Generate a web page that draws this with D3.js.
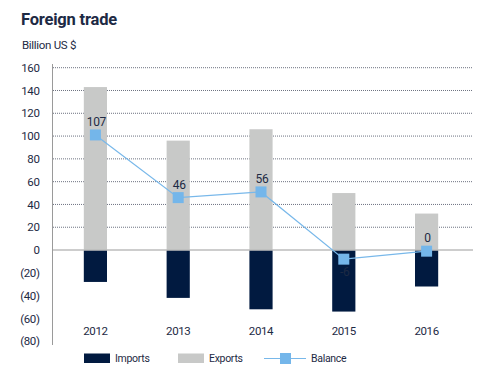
<!DOCTYPE html>
<html><head><meta charset="utf-8">
<script src="https://cdn.jsdelivr.net/npm/d3@7"></script>
<style>
body{margin:0;background:#fff;}
svg text{font-family:Roboto,"Open Sans",sans-serif;fill:#1d2a44;}
</style></head>
<body><svg id="c" width="491" height="381"></svg>
<script>
const years = ["2012","2013","2014","2015","2016"];
const exportsVals = [143, 96, 106, 50, 32];
const importsVals = [-28, -42, -52, -54, -32];
const balanceVals = [101, 46, 51, -8, -1];
const balanceLabels = ["107","46","56","-6","0"];
const yTicks = [160,140,120,100,80,60,40,20,0,-20,-40,-60,-80];
const yTickLabels = ["160","140","120","100","80","60","40","20","0","(20)","(40)","(60)","(80)"];

const svg = d3.select("#c");
const x = d3.scaleBand().domain(years).range([54,468]).paddingInner(0.72).paddingOuter(0.36);
const y = d3.scaleLinear().domain([-80,160]).range([341.2,67.7]);

svg.append("text").attr("x",21).attr("y",25).attr("font-size",16.5).attr("font-weight","bold").attr("letter-spacing","-0.2").text("Foreign trade");
svg.append("text").attr("x",22).attr("y",49).attr("font-size",11.5).attr("letter-spacing","-0.3").text("Billion US $");

// gridlines
svg.append("g").selectAll("line").data(yTicks.filter(d=>d>0)).join("line")
  .attr("x1",53).attr("x2",473).attr("y1",d=>y(d)).attr("y2",d=>y(d))
  .attr("stroke","#4a5063").attr("stroke-width",1).attr("stroke-dasharray","1,1").attr("opacity",0.8);

// y axis
const yAxis = d3.axisLeft(y).tickValues(yTicks).tickSize(0).tickPadding(0)
  .tickFormat((d,i)=>yTickLabels[yTicks.indexOf(d)]);
const ga = svg.append("g").attr("transform","translate(39.5,0)").call(yAxis);
ga.select(".domain").remove();
ga.selectAll("text").attr("font-size",11.5).attr("letter-spacing","-0.4").attr("fill","#1d2a44").attr("font-family","Roboto");
svg.append("line").attr("x1",52.5).attr("x2",52.5).attr("y1",64).attr("y2",345).attr("stroke","#9a9a9a").attr("stroke-width",1);

// bars
svg.append("g").selectAll("rect").data(years).join("rect")
  .attr("x",d=>x(d)).attr("width",x.bandwidth())
  .attr("y",(d,i)=>y(exportsVals[i])).attr("height",(d,i)=>y(0)-y(exportsVals[i]))
  .attr("fill","#c8c9c8");
svg.append("g").selectAll("rect").data(years).join("rect")
  .attr("x",d=>x(d)).attr("width",x.bandwidth())
  .attr("y",y(0)).attr("height",(d,i)=>y(importsVals[i])-y(0))
  .attr("fill","#011a40");

// zero line
svg.append("line").attr("x1",53).attr("x2",473).attr("y1",y(0)).attr("y2",y(0)).attr("stroke","#bdbdbd").attr("stroke-width",1.5);

// balance line
const cx = d=>x(d)+x.bandwidth()/2;
const line = d3.line().x((d,i)=>cx(years[i])).y(d=>y(d));
svg.append("path").datum(balanceVals).attr("d",line).attr("fill","none").attr("stroke","#78b8ea").attr("stroke-width",1.2);
svg.append("g").selectAll("rect").data(balanceVals).join("rect")
  .attr("x",(d,i)=>cx(years[i])-5.5).attr("y",d=>y(d)-5.5).attr("width",11).attr("height",11)
  .attr("fill","#74b6ea");
svg.append("g").selectAll("text").data(balanceVals).join("text")
  .attr("x",(d,i)=>cx(years[i])+1).attr("y",d=>d< -3 ? y(d)+17 : y(d)-9)
  .attr("text-anchor","middle").attr("font-size",12).attr("letter-spacing","-0.3")
  .attr("fill",(d,i)=> d< -3 ? "#ffffff" : "#1d2a44")
  .text((d,i)=>balanceLabels[i]);

// x labels
svg.append("g").selectAll("text").data(years).join("text")
  .attr("x",d=>cx(d)).attr("y",335).attr("text-anchor","middle").attr("font-size",11.5).attr("letter-spacing","-0.4")
  .text(d=>d);

// legend
const lg = svg.append("g");
lg.append("rect").attr("x",84).attr("y",353.5).attr("width",26).attr("height",9.5).attr("fill","#011a40");
lg.append("text").attr("x",115).attr("y",362).attr("font-size",10.5).attr("letter-spacing","-0.3").text("Imports");
lg.append("rect").attr("x",178).attr("y",353.5).attr("width",26).attr("height",9.5).attr("fill","#c8c9c8");
lg.append("text").attr("x",209).attr("y",362).attr("font-size",10.5).attr("letter-spacing","-0.3").text("Exports");
lg.append("line").attr("x1",264).attr("x2",306).attr("y1",358.5).attr("y2",358.5).attr("stroke","#78b8ea").attr("stroke-width",1.2);
lg.append("rect").attr("x",280).attr("y",353).attr("width",11).attr("height",11).attr("fill","#74b6ea");
lg.append("text").attr("x",311).attr("y",362).attr("font-size",10.5).attr("letter-spacing","-0.3").text("Balance");
</script></body></html>
